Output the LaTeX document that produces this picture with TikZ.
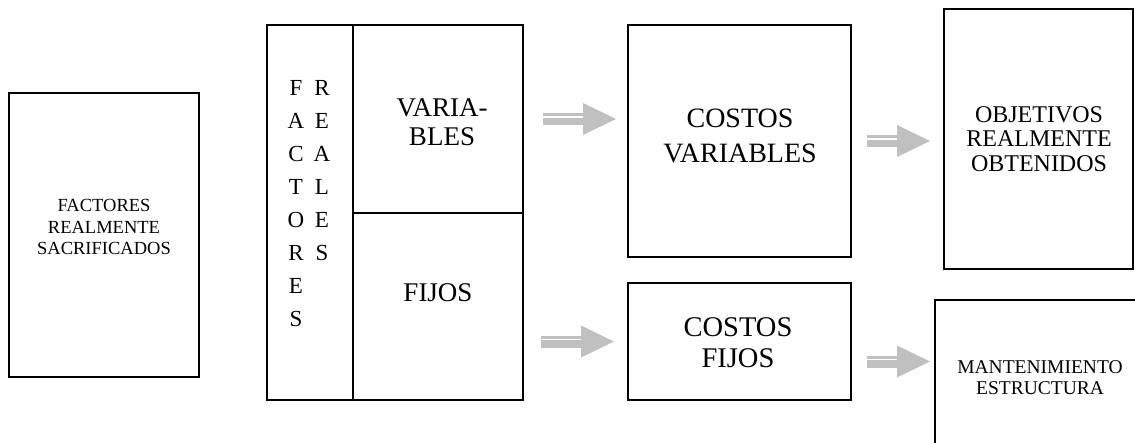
\documentclass[tikz,border=0pt]{standalone}
\usepackage{fontspec}
\setmainfont{Liberation Serif}
\usetikzlibrary{arrows.meta,positioning}
\definecolor{grisflecha}{RGB}{192,192,192}
\tikzset{
	caja/.style={draw, rectangle, line width=1.2pt, inner sep=0pt, outer sep=0pt},
	texto/.style={align=center, inner sep=0pt},
	letras/.style={align=center, inner sep=0pt, anchor=north,
			font=\fontsize{23}{33}\selectfont},
	flecha/.style={draw=grisflecha, line width=12pt,
			-{Triangle[length=33pt, width=32pt, line width=0pt]}},
	raya/.style={draw=white, line width=1.2pt}
}

\begin{document}
\begin{tikzpicture}[x=1pt, y=-1pt]
  \useasboundingbox (0,0) rectangle (1135,442);

  % cajas
  \node[caja, minimum width=190, minimum height=284] (sacrificados) at (104,235) {};
  \node[caja, minimum width=86, minimum height=375] (factores) at (310,212.5) {};
  \node[caja, minimum width=170, minimum height=188, anchor=north west] (variables) at (factores.north east) {};
  \node[caja, minimum width=170, minimum height=187, below=0pt of variables] (fijos) {};
  \node[caja, minimum width=223, minimum height=232] (costosvar) at (739.5,141) {};
  \node[caja, minimum width=223, minimum height=117] (costosfijos) at (739.5,341.5) {};
  \node[caja, minimum width=189, minimum height=260] (objetivos) at (1038.5,139) {};
  \node[caja, minimum width=210, minimum height=155] (mantenimiento) at (1040,377.5) {};
  \draw[line width=2pt] (factores.north east) -- (factores.south east);
  \draw[line width=2pt] (variables.south west) -- (variables.south east);

  % textos
  \node[texto, font=\fontsize{18.5}{21.5}\selectfont] (sacrificadostxt) at (104,227) {FACTORES\\REALMENTE\\SACRIFICADOS};
  \node[letras] (colfactores) at (296,80.5) {F\\A\\C\\T\\O\\R\\E\\S};
  \node[letras] (colreales) at (322,80.5) {R\\E\\A\\L\\E\\S};
  \node[texto, font=\fontsize{27}{29}\selectfont] (variablestxt) at (442,122.5) {VARIA-\\BLES};
  \node[texto, font=\fontsize{27}{29}\selectfont] (fijostxt) at (438,293) {FIJOS};
  \node[texto, font=\fontsize{28}{35}\selectfont] (costosvartxt) at (740,135.5) {COSTOS\\VARIABLES};
  \node[texto, font=\fontsize{28.5}{31}\selectfont] (costosfijostxt) at (738,342.5) {COSTOS\\FIJOS};
  \node[texto, font=\fontsize{24}{24.5}\selectfont] (objetivostxt) at (1039,139) {OBJETIVOS\\REALMENTE\\OBTENIDOS};
  \node[texto, font=\fontsize{19.5}{21}\selectfont] (mantenimientotxt) at (1040,377.5) {MANTENIMIENTO\\ESTRUCTURA};

  % flechas
  \draw[flecha, shorten <=20pt, shorten >=12pt] (variables.east) -- (variables.east -| costosvar.west);
  \draw[raya, shorten <=20pt, shorten >=45pt] ([yshift=2pt]variables.east) -- ([yshift=2pt]variables.east -| costosvar.west);
  \draw[flecha, shorten <=18pt, shorten >=14pt] (fijos.east |- costosfijos.west) -- (costosfijos.west);
  \draw[raya, shorten <=18pt, shorten >=47pt] ([yshift=2pt]fijos.east |- costosfijos.west) -- ([yshift=2pt]costosfijos.west);
  \draw[flecha, shorten <=16pt, shorten >=14pt] (costosvar.east) -- (costosvar.east -| objetivos.west);
  \draw[raya, shorten <=16pt, shorten >=47pt] ([yshift=2pt]costosvar.east) -- ([yshift=2pt]costosvar.east -| objetivos.west);
  \draw[flecha, shorten <=16pt, shorten >=5pt] ([yshift=-20pt]costosfijos.east) -- ([yshift=-20pt]costosfijos.east -| mantenimiento.west);
  \draw[raya, shorten <=16pt, shorten >=38pt] ([yshift=-18pt]costosfijos.east) -- ([yshift=-18pt]costosfijos.east -| mantenimiento.west);

\end{tikzpicture}
\end{document}
